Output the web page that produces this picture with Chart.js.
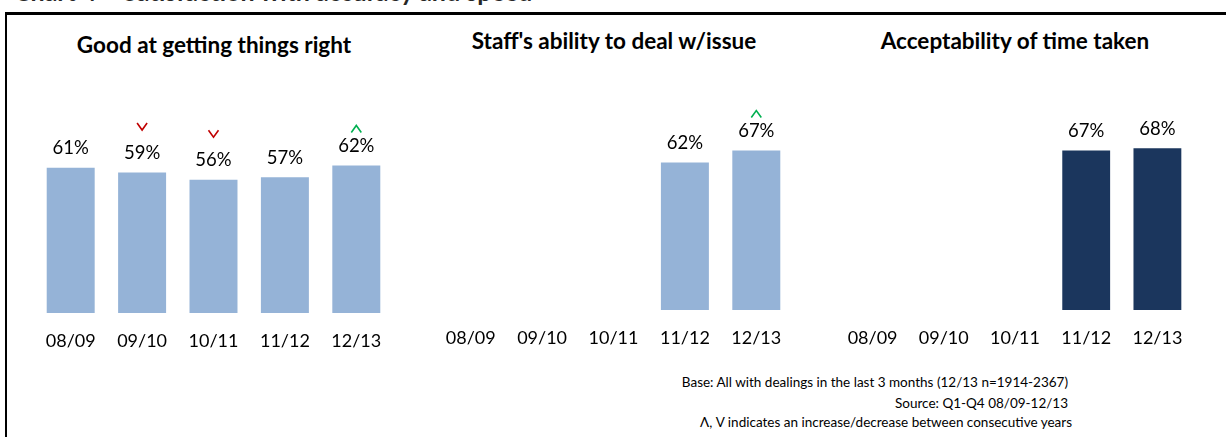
<!DOCTYPE html>
<html>
<head>
<meta charset="utf-8">
<title>Satisfaction with accuracy and speed</title>
<script src="https://cdn.jsdelivr.net/npm/chart.js@4.4.1/dist/chart.umd.min.js"></script>
<style>
  body { margin: 0; width: 1226px; height: 437px; overflow: hidden; background: #fff; position: relative; font-family: Lato, sans-serif; color: #000; }
  .frame { position: absolute; left: 5px; top: 12px; width: 1240px; height: 450px; border-left: 2px solid #000; border-top: 3px solid #000; }
  .heading { position: absolute; left: 14px; top: -24px; font: bold 25px Lato, sans-serif; color: #262626; white-space: nowrap; }
  .panel-title { position: absolute; font: bold 22.5px Lato, sans-serif; line-height: 26px; transform: translateX(-50%); white-space: nowrap; }
  .box { position: absolute; }
  .note { position: absolute; right: 158px; font: 13.5px Lato, sans-serif; line-height: 18px; text-align: right; white-space: nowrap; }
</style>
</head>
<body>
<div class="heading">Chart 4 – Satisfaction with accuracy and speed</div>
<div class="frame"></div>

<div class="panel-title" style="left:214px; top:32px">Good at getting things right</div>
<div class="panel-title" style="left:614px; top:28px">Staff's ability to deal w/issue</div>
<div class="panel-title" style="left:1015px; top:28px">Acceptability of time taken</div>

<div class="box" style="left:35px; top:60px"><canvas id="c1" width="357" height="293"></canvas></div>
<div class="box" style="left:435px; top:57px"><canvas id="c2" width="357" height="293"></canvas></div>
<div class="box" style="left:837px; top:57px"><canvas id="c3" width="356" height="293"></canvas></div>

<div class="note" style="top:373px">Base: All with dealings in the last 3 months (12/13 n=1914-2367)</div>
<div class="note" style="top:394px">Source: Q1-Q4 08/09-12/13</div>
<div class="note" style="top:413px; right:154px">Λ, V indicates an increase/decrease between consecutive years</div>

<script>
const years = ['08/09', '09/10', '10/11', '11/12', '12/13']

// % satisfied per year, null where the question was not asked
const gettingRight = [61, 59, 56, 57, 62]
const staffAbility = [null, null, null, 62, 67]
const timeTaken = [null, null, null, 67, 68]

// 1 = significant increase, -1 = significant decrease, 0 = no change
const gettingRightShift = [0, -1, -1, 0, 1]
const staffAbilityShift = [0, 0, 0, 0, 1]
const timeTakenShift = [0, 0, 0, 0, 0]

const lightBlue = '#95b3d7'
const navy = '#1b365d'

// percentage above each bar plus the up/down chevron
const barLabels = {
    id: 'barLabels',
    afterDatasetsDraw(chart, args, opts) {
        const ctx = chart.ctx
        const meta = chart.getDatasetMeta(0)
        const values = chart.data.datasets[0].data
        ctx.save()
        ctx.font = '18.5px Lato, sans-serif'
        ctx.fillStyle = '#000'
        ctx.textAlign = 'center'
        ctx.textBaseline = 'middle'
        meta.data.forEach((bar, i) => {
            const v = values[i]
            if (v == null) return
            ctx.fillText(v + '%', bar.x, bar.y - 19.5)

            const shift = opts.shifts[i]
            if (!shift) return
            ctx.lineWidth = 1.6
            ctx.beginPath()
            if (shift > 0) {
                const cy = bar.y - 36.5
                ctx.strokeStyle = '#00b050'
                ctx.moveTo(bar.x - 5, cy + 3.5)
                ctx.lineTo(bar.x, cy - 3.5)
                ctx.lineTo(bar.x + 5, cy + 3.5)
            } else {
                const cy = bar.y - 46
                ctx.strokeStyle = '#c00000'
                ctx.moveTo(bar.x - 5, cy - 3.5)
                ctx.lineTo(bar.x, cy + 3.5)
                ctx.lineTo(bar.x + 5, cy - 3.5)
            }
            ctx.stroke()
        })
        ctx.restore()
    }
}

function makePanel(id, values, shifts, colour, topPad) {
    return new Chart(document.getElementById(id), {
        type: 'bar',
        data: {
            labels: years,
            datasets: [{
                data: values,
                backgroundColor: colour,
                borderWidth: 0,
                barPercentage: 0.672,
                categoryPercentage: 1,
            }]
        },
        options: {
            responsive: false,
            animation: false,
            events: [],
            layout: { padding: { top: topPad, left: 0, right: 0, bottom: 0 } },
            plugins: {
                legend: { display: false },
                tooltip: { enabled: false },
                barLabels: { shifts },
            },
            scales: {
                x: {
                    // tick marks are hidden, tickLength only spaces the labels down
                    grid: { display: false, drawTicks: true, tickLength: 17 },
                    border: { display: false },
                    ticks: { color: '#000', font: { family: 'Lato, sans-serif', size: 18 }, padding: 0, maxRotation: 0 },
                    afterFit: scale => { scale.height = 40 },
                },
                y: {
                    display: false,
                    min: 0,
                    max: 100,
                }
            }
        },
        plugins: [barLabels]
    })
}

makePanel('c1', gettingRight, gettingRightShift, lightBlue, 15)
makePanel('c2', staffAbility, staffAbilityShift, lightBlue, 15)
makePanel('c3', timeTaken, timeTakenShift, navy, 15)
</script>
</body>
</html>
